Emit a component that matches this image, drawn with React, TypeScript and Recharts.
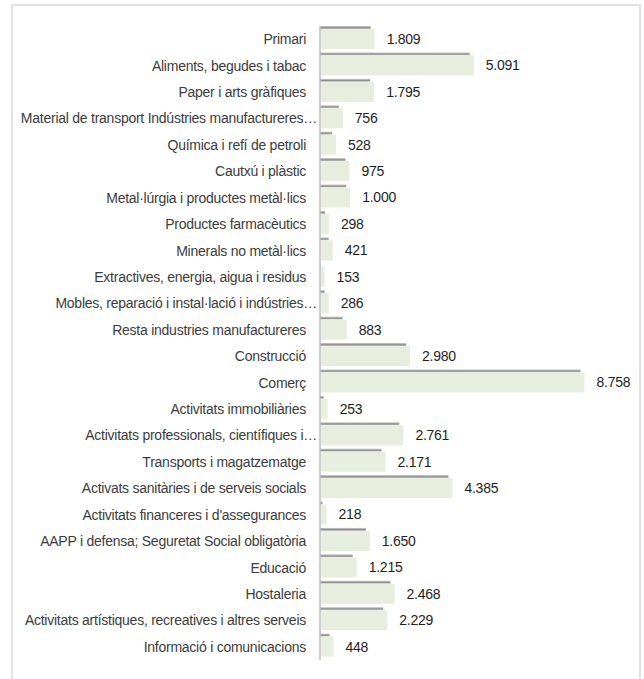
import { BarChart, Bar, XAxis, YAxis, LabelList } from 'recharts'

const sectors = [
  'Primari',
  'Aliments, begudes i tabac',
  'Paper i arts gràfiques',
  'Material de transport Indústries manufactureres…',
  'Química i refí de petroli',
  'Cautxú i plàstic',
  'Metal·lúrgia i productes metàl·lics',
  'Productes farmacèutics',
  'Minerals no metàl·lics',
  'Extractives, energia, aigua i residus',
  'Mobles, reparació i instal·lació i indústries…',
  'Resta industries manufactureres',
  'Construcció',
  'Comerç',
  'Activitats immobiliàries',
  'Activitats professionals, científiques i…',
  'Transports i magatzematge',
  'Activats sanitàries i de serveis socials',
  'Activitats financeres i d\'assegurances',
  'AAPP i defensa; Seguretat Social obligatòria',
  'Educació',
  'Hostaleria',
  'Activitats artístiques, recreatives i altres serveis',
  'Informació i comunicacions',
]

const values = [
  1809, 5091, 1795, 756, 528, 975, 1000, 298, 421, 153, 286, 883, 2980, 8758, 253, 2761, 2171,
  4385, 218, 1650, 1215, 2468, 2229, 448,
]

const data = sectors.map((name, i) => ({ name, value: values[i] }))

const fmt = (v: number) => String(v).replace(/\B(?=(\d{3})+(?!\d))/g, '.')

const font = '"Liberation Sans", Arial, sans-serif'

function ShadowBar(props: any) {
  const { x, y, width, height } = props
  const sw = Math.max(width - 4, 0)
  return (
    <g>
      <defs>
        <linearGradient id="barShadow" x1="0" y1="0" x2="0" y2="1">
          <stop offset="0%" stopColor="#cfcfcf" />
          <stop offset="55%" stopColor="#8e8e8e" />
          <stop offset="100%" stopColor="#c4c4c4" />
        </linearGradient>
      </defs>
      <rect x={x} y={y - 3} width={sw} height={3} fill="url(#barShadow)" />
      <rect x={x + 1} y={y} width={Math.max(width - 1, 0)} height={height} fill="#e8eedd" />
    </g>
  )
}

// labels cut with an ellipsis run a bit past the others, up to the axis
function SectorTick(props: any) {
  const { x, y, payload } = props
  const cut = String(payload.value).endsWith('…')
  return (
    <text
      x={x + (cut ? 11 : 0)}
      y={y}
      dy="0.355em"
      textAnchor="end"
      fontSize={14}
      fill="#3c3c3c"
      fontFamily={font}
      letterSpacing={-0.25}
    >
      {payload.value}
    </text>
  )
}

export default function App() {
  return (
    <div style={{ position: 'absolute', left: 0, top: 0, width: 644, height: 679, overflow: 'hidden', background: '#fff' }}>
      <div
        style={{
          position: 'absolute',
          left: 11,
          top: 4,
          width: 630,
          height: 720,
          border: '2px solid #e2e2e2',
          boxSizing: 'border-box',
        }}
      />
      <div style={{ position: 'absolute', left: 0, top: 0 }}>
        <BarChart
          width={644}
          height={679}
          data={data}
          layout="vertical"
          barSize={20}
          margin={{ top: 26, right: 22, bottom: 19, left: 0 }}
        >
          <XAxis type="number" domain={[0, 10000]} hide />
          <YAxis
            type="category"
            dataKey="name"
            width={320}
            interval={0}
            tickLine={false}
            tickSize={0}
            tickMargin={14}
            axisLine={{ stroke: '#bdbdbd', strokeWidth: 1.5 }}
            tick={<SectorTick />}
          />
          <Bar dataKey="value" shape={<ShadowBar />} isAnimationActive={false}>
            <LabelList
              dataKey="value"
              position="right"
              offset={12}
              formatter={(v: any) => fmt(Number(v))}
              style={{ fontSize: 14, fill: '#1e1e1e', fontFamily: font, letterSpacing: -0.25 }}
            />
          </Bar>
        </BarChart>
      </div>
    </div>
  )
}
